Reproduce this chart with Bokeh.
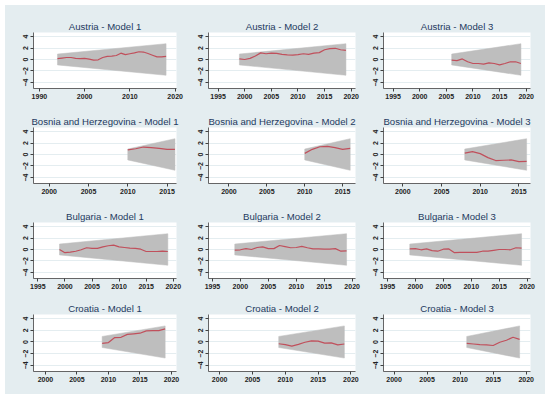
from bokeh.plotting import figure
from bokeh.layouts import gridplot
from bokeh.models import FixedTicker, Range1d
from bokeh.embed import file_html
from bokeh.resources import INLINE

# ---------------- data ----------------
titles = [
    "Austria - Model 1", "Austria - Model 2", "Austria - Model 3",
    "Bosnia and Herzegovina - Model 1", "Bosnia and Herzegovina - Model 2", "Bosnia and Herzegovina - Model 3",
    "Bulgaria - Model 1", "Bulgaria - Model 2", "Bulgaria - Model 3",
    "Croatia - Model 1", "Croatia - Model 2", "Croatia - Model 3",
]

aut1_years = list(range(1994, 2019))
aut1_cusum = [0.15, 0.25, 0.35, 0.35, 0.2, 0.15, 0.2, 0.05, -0.1, -0.05, 0.35, 0.55, 0.6,
              0.7, 1.1, 0.85, 1.0, 1.15, 1.35, 1.3, 1.05, 0.75, 0.45, 0.45, 0.55]
aut2_years = list(range(1999, 2020))
aut2_cusum = [0.1, 0.0, 0.2, 0.6, 1.15, 1.0, 1.1, 1.05, 0.9, 0.8, 0.75, 0.85, 1.0, 0.9,
              1.1, 1.2, 1.7, 1.9, 1.95, 1.7, 1.6]
aut3_years = list(range(2006, 2020))
aut3_cusum = [-0.1, -0.2, 0.1, -0.4, -0.7, -0.7, -0.8, -0.6, -0.7, -0.95, -0.7, -0.4, -0.4, -0.7]

bih1_years = list(range(2010, 2017))
bih1_cusum = [0.8, 1.0, 1.3, 1.2, 1.05, 0.9, 0.9]
bih2_years = list(range(2010, 2017))
bih2_cusum = [0.2, 0.9, 1.35, 1.4, 1.2, 0.9, 1.05]
bih3_years = list(range(2008, 2017))
bih3_cusum = [0.25, 0.5, 0.15, -0.55, -1.05, -1.0, -0.95, -1.25, -1.2]

bgr1_years = list(range(1999, 2020))
bgr1_cusum = [0.0, -0.55, -0.45, -0.3, -0.05, 0.3, 0.2, 0.2, 0.45, 0.65, 0.75, 0.45, 0.35,
              0.25, 0.2, 0.05, -0.35, -0.35, -0.35, -0.3, -0.35]
bgr2_years = list(range(1999, 2020))
bgr2_cusum = [-0.1, -0.05, 0.15, 0.0, 0.35, 0.45, 0.15, 0.15, 0.7, 0.5, 0.3, 0.35, 0.55,
              0.3, 0.1, 0.1, 0.05, 0.05, 0.15, -0.3, -0.25]
bgr3_years = list(range(1999, 2020))
bgr3_cusum = [0.1, 0.15, -0.05, 0.1, -0.2, -0.3, 0.05, 0.1, -0.55, -0.5, -0.5, -0.5, -0.5,
              -0.3, -0.3, -0.15, 0.0, 0.0, -0.05, 0.3, 0.25]

hrv1_years = list(range(2009, 2020))
hrv1_cusum = [-0.25, -0.1, 0.75, 0.8, 1.3, 1.4, 1.5, 1.9, 1.95, 1.95, 2.25]
hrv2_years = list(range(2009, 2020))
hrv2_cusum = [-0.3, -0.45, -0.7, -0.4, -0.05, 0.2, 0.15, -0.2, -0.15, -0.5, -0.35]
hrv3_years = list(range(2011, 2020))
hrv3_cusum = [-0.25, -0.35, -0.45, -0.5, -0.6, -0.05, 0.3, 0.8, 0.45]

years = [aut1_years, aut2_years, aut3_years, bih1_years, bih2_years, bih3_years,
         bgr1_years, bgr2_years, bgr3_years, hrv1_years, hrv2_years, hrv3_years]
cusum = [aut1_cusum, aut2_cusum, aut3_cusum, bih1_cusum, bih2_cusum, bih3_cusum,
         bgr1_cusum, bgr2_cusum, bgr3_cusum, hrv1_cusum, hrv2_cusum, hrv3_cusum]

# 5% significance band half-width at first and last year
band_start = 0.95
band_end = 2.75

x_ranges = [(1988.7, 2020.3), (1993.2, 2020.8), (1993.2, 2020.8),
            (1998.0, 2016.2), (1997.3, 2016.7), (1997.5, 2016.5),
            (1994.2, 2020.6), (1994.3, 2020.6), (1994.3, 2020.6),
            (1998.1, 2020.8), (1998.3, 2020.7), (1998.4, 2020.65)]
x_ticks = [[1990, 2000, 2010, 2020], [1995, 2000, 2005, 2010, 2015, 2020], [1995, 2000, 2005, 2010, 2015, 2020],
           [2000, 2005, 2010, 2015], [2000, 2005, 2010, 2015], [2000, 2005, 2010, 2015],
           [1995, 2000, 2005, 2010, 2015, 2020], [1995, 2000, 2005, 2010, 2015, 2020], [1995, 2000, 2005, 2010, 2015, 2020],
           [2000, 2005, 2010, 2015, 2020], [2000, 2005, 2010, 2015, 2020], [2000, 2005, 2010, 2015, 2020]]
y_ticks = [-4, -2, 0, 2, 4]
y_range = (-5.05, 4.7)

# ---------------- layout / style ----------------
BG = "#E4EDF0"
FONT = "Liberation Sans"
col_fw = [143, 147, 147]
col_left = [28, 23, 18]
col_right = [9, 10, 15]
row_fh = [56, 56, 56, 57]
row_top = [27, 22, 22, 19]
row_bottom = [17, 17, 17, 23]

rows = []
for r in range(4):
    row = []
    for c in range(3):
        i = r * 3 + c
        p = figure(frame_width=col_fw[c], frame_height=row_fh[r], output_backend="svg", toolbar_location=None,
                   x_range=Range1d(*x_ranges[i]), y_range=Range1d(*y_range),
                   min_border_left=col_left[c], min_border_right=col_right[c],
                   min_border_top=row_top[r], min_border_bottom=row_bottom[r],
                   background_fill_color="white", border_fill_color=BG,
                   outline_line_color=None, title=titles[i])
        p.title.align = "center"
        p.title.text_font = FONT
        p.title.text_font_size = "9.6px"
        p.title.text_font_style = "normal"
        p.title.text_color = "#1E3A5F"
        p.title.standoff = 1

        yrs = years[i]
        x0, x1 = yrs[0], yrs[-1]
        p.patch([x0, x1, x1, x0], [-band_start, -band_end, band_end, band_start],
                fill_color="#BEBEBE", line_color="#BEBEBE", line_width=0.5)
        p.line(yrs, cusum[i], line_color="#C0505C", line_width=1.2)

        p.xaxis.ticker = FixedTicker(ticks=x_ticks[i])
        p.yaxis.ticker = FixedTicker(ticks=y_ticks)
        for ax in (p.xaxis, p.yaxis):
            ax.axis_line_color = "#404040"
            ax.axis_line_width = 0.8
            ax.major_tick_line_color = "#404040"
            ax.major_tick_out = 3
            ax.major_tick_in = 0
            ax.minor_tick_line_color = None
            ax.major_label_text_font = FONT
            ax.major_label_text_font_size = "7px"
            ax.major_label_text_font_style = "bold"
            ax.major_label_text_color = "#222222"
            ax.major_label_standoff = 2
        p.yaxis.major_label_orientation = "vertical"
        p.xgrid.grid_line_color = None
        p.ygrid.grid_line_color = "#E4EDF0"
        p.ygrid.grid_line_width = 1
        row.append(p)
    rows.append(row)

grid = gridplot(rows, toolbar_location=None)
grid.spacing = 0
grid.styles = {"background-color": BG, "margin": "5px 0 0 5px"}

open("out.html", "w").write(file_html(grid, INLINE))
